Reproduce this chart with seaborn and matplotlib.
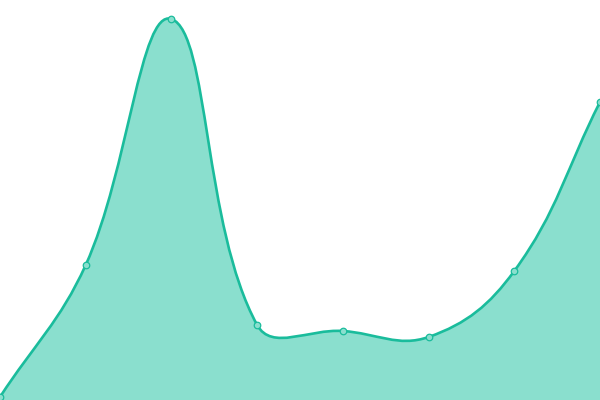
import matplotlib.pyplot as plt
import numpy as np
import pandas as pd
import seaborn as sns
from matplotlib.path import Path
from matplotlib.patches import PathPatch

LINE, FILL = "#1abc9c", "#8adfce"

x_pos = [0, 1, 2, 3, 4, 5, 6, 7]
values = [3, 135, 381, 75, 69, 63, 129, 298]

sns.set_theme(style="white")

df = pd.DataFrame({"x": x_pos, "y": values})

W, H = 600, 400
XMAX, YMAX = 7, 400
TENSION = 0.4

# spline control points (tension style), worked out in pixel space
pts = np.column_stack([df.x * W / XMAX, df.y * H / YMAX]).astype(float)
n = len(pts)
cp_prev, cp_next = [], []
for i in range(n):
    prev = pts[max(i - 1, 0)]
    cur = pts[i]
    nxt = pts[min(i + 1, n - 1)]
    d01 = np.hypot(*(cur - prev))
    d12 = np.hypot(*(nxt - cur))
    tot = d01 + d12
    s01 = d01 / tot if tot else 0
    s12 = d12 / tot if tot else 0
    cp_prev.append(cur - TENSION * s01 * (nxt - prev))
    cp_next.append(cur + TENSION * s12 * (nxt - prev))

scale = np.array([W / XMAX, H / YMAX])
verts, codes = [tuple(pts[0] / scale)], [Path.MOVETO]
for i in range(n - 1):
    verts += [tuple(cp_next[i] / scale), tuple(cp_prev[i + 1] / scale), tuple(pts[i + 1] / scale)]
    codes += [Path.CURVE4] * 3
line_path = Path(verts, codes)
fill_path = Path(
    verts + [(x_pos[-1], 0), (x_pos[0], 0), (x_pos[0], values[0])],
    codes + [Path.LINETO, Path.LINETO, Path.CLOSEPOLY],
)

fig = plt.figure(figsize=(6, 4), dpi=100)
ax = fig.add_axes([0, 0, 1, 1])
ax.add_patch(PathPatch(fill_path, facecolor=FILL, edgecolor="none"))
ax.add_patch(PathPatch(line_path, facecolor="none", edgecolor=LINE, lw=1.9))
sns.scatterplot(
    data=df, x="x", y="y", ax=ax, s=22, color=FILL, edgecolor=LINE,
    linewidth=0.9, zorder=3, legend=False,
)
ax.set_xlim(0, XMAX)
ax.set_ylim(0, YMAX)
ax.axis("off")
fig.savefig("out.png")
